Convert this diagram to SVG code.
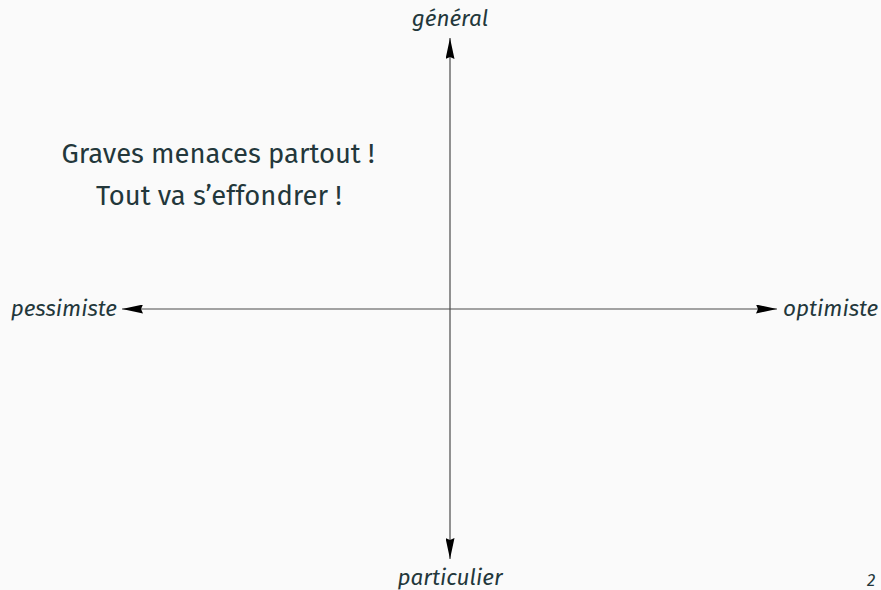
<svg xmlns="http://www.w3.org/2000/svg" width="881" height="590" viewBox="0 0 881 590">
<defs>
<style>
.lbl{font-family:"Fira Sans","Open Sans","Noto Sans",sans-serif;font-style:italic;font-size:22.5px;fill:#23373b}
.main{font-family:"Fira Sans","Open Sans","Noto Sans",sans-serif;font-size:27.4px;fill:#23373b;text-anchor:middle}
.ax{stroke:#4a4a4a;stroke-width:1.2;fill:none}
</style>
<marker id="ah" viewBox="0 0 21 9" refX="21" refY="4.5" markerWidth="21" markerHeight="9" markerUnits="userSpaceOnUse" orient="auto">
<path d="M0,0 L21,4.5 L0,9 L2,4.5 Z" fill="#000"/>
</marker>
</defs>
<rect width="881" height="590" fill="#fafafa"/>
<g id="connectors">
<line class="ax" x1="450" y1="309" x2="450" y2="38" marker-end="url(#ah)"/>
<line class="ax" x1="450" y1="309" x2="450" y2="559" marker-end="url(#ah)"/>
<line class="ax" x1="450" y1="309" x2="122" y2="309" marker-end="url(#ah)"/>
<line class="ax" x1="450" y1="309" x2="777" y2="309" marker-end="url(#ah)"/>
</g>
<g id="general"><text class="lbl" x="450" y="26" text-anchor="middle">général</text></g>
<g id="particulier"><text class="lbl" x="450" y="585" text-anchor="middle">particulier</text></g>
<g id="pessimiste"><text class="lbl" x="117" y="316" text-anchor="end">pessimiste</text></g>
<g id="optimiste"><text class="lbl" x="783" y="316">optimiste</text></g>
<g id="quote">
<text class="main" x="218" y="163">Graves menaces partout !</text>
<text class="main" x="219" y="205">Tout va s’effondrer !</text>
</g>
<text x="867" y="586" style="font-family:'Fira Sans','Open Sans',sans-serif;font-style:italic;font-size:17px;fill:#23373b">2</text>
</svg>
